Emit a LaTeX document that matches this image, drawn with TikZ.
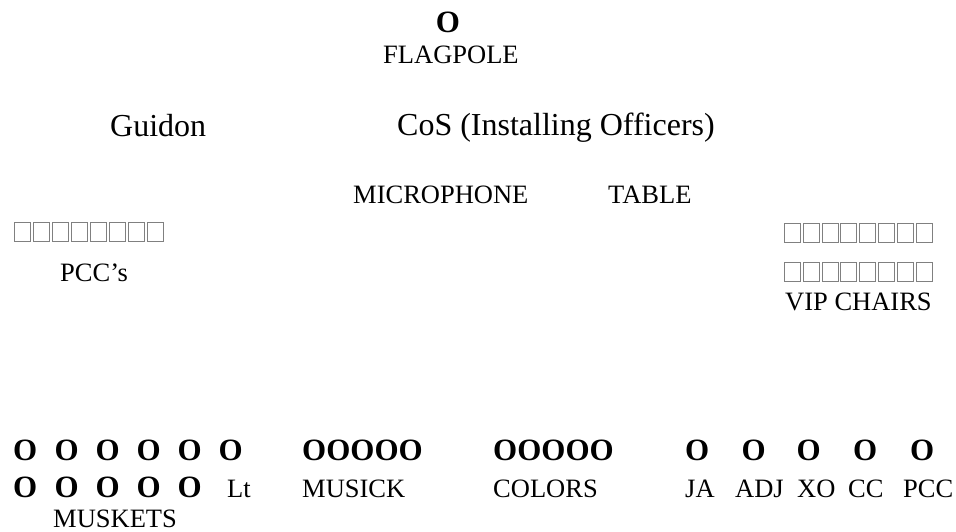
\documentclass[tikz,border=0pt]{standalone}
\usepackage{fontspec}
\setmainfont{Liberation Serif}
\begin{document}
\begin{tikzpicture}[x=1pt,y=-1pt,
  lbl/.style={inner sep=0pt,anchor=base west,font=\fontsize{26.5}{30}\selectfont},
  big/.style={inner sep=0pt,anchor=base west,font=\fontsize{32}{36}\selectfont},
  bo/.style={inner sep=0pt,anchor=base west,font=\fontsize{31}{34}\selectfont\bfseries},
  chair/.style={draw=black!50,line width=0.9pt,fill=white}]
\useasboundingbox (0,0) rectangle (956,531);
% top
\node[bo,anchor=base] (flagO) at (448,32) {O};
\node[lbl] (flagpole) at (383,63) {FLAGPOLE};
\node[big] (guidon) at (110,136) {Guidon};
\node[big] (cos) at (397,135) {CoS (Installing Officers)};
\node[lbl] (mic) at (353,203) {MICROPHONE};
\node[lbl] (table) at (608,203) {TABLE};
% chairs
\foreach \i in {0,...,7}{
  \draw[chair] (14+19*\i,222.5) rectangle ++(16,19) coordinate (lc\i);
  \draw[chair] (784.5+18.8*\i,223) rectangle ++(16,19) coordinate (ra\i);
  \draw[chair] (784.5+18.8*\i,262) rectangle ++(16,19) coordinate (rb\i);
}
\node[lbl] (pccs) at (60,281) {PCC’s};
\node[lbl] (vip) at (785,310) {VIP CHAIRS};
% bottom row 1
\foreach \x [count=\k] in {13,54.5,95.5,136.5,177.5,218.5}{
  \node[bo] (a\k) at (\x,460) {O};
}
\node[bo] (musO) at (302,460) {OOOOO};
\node[bo] (colO) at (493,460) {OOOOO};
\foreach \x/\n in {685/ja,741.5/adj,796.5/xo,853/cc,910/pcc}{
  \node[bo] (\n O) at (\x,460) {O};
}
% bottom row 2
\foreach \x [count=\k] in {13,54.5,95.5,136.5,177.5}{
  \node[bo] (b\k) at (\x,497) {O};
}
\node[lbl] (lt) at (227,497) {Lt};
\node[lbl] (musick) at (302,497) {MUSICK};
\node[lbl] (colors) at (493,497) {COLORS};
\node[lbl] (ja) at (685,497) {JA};
\node[lbl] (adj) at (735,497) {ADJ};
\node[lbl] (xo) at (797,497) {XO};
\node[lbl] (cc) at (848,497) {CC};
\node[lbl] (pcc) at (903,497) {PCC};
\node[lbl] (muskets) at (53,527) {MUSKETS};
\end{tikzpicture}
\end{document}
